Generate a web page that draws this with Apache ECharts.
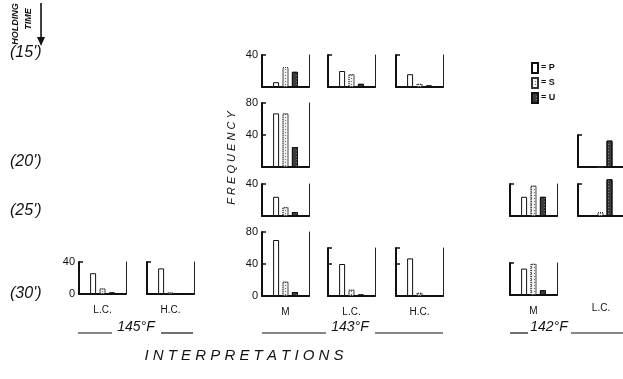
<!DOCTYPE html>
<html><head><meta charset="utf-8">
<script src="https://cdn.jsdelivr.net/npm/echarts@6/dist/echarts.min.js"></script>
<style>html,body{margin:0;padding:0;background:#fff}#c{width:623px;height:379px}</style>
</head><body><div id="c"></div>
<script>
// ---- data ----
const categories = ['P', 'S', 'U'];
const holdingTimes = ["(15')", "(20')", "(25')", "(30')"];
const temperatures = ['145°F', '143°F', '142°F'];
const treatments = ['M', 'L.C.', 'H.C.'];
const tickValues = [0, 40, 80];
// frequencies [P, S, U] per panel
const f145_LC_30 = [26, 7, 2];
const f145_HC_30 = [32, 2, 1];
const f143_M_15 = [6, 25, 19];
const f143_LC_15 = [20, 16, 4];
const f143_HC_15 = [16, 4, 2];
const f143_M_20 = [67, 67, 25];
const f143_M_25 = [24, 11, 5];
const f143_M_30 = [70, 18, 5];
const f143_LC_30 = [40, 8, 2];
const f143_HC_30 = [47, 4, 1];
const f142_LC_20 = [0, 0, 33];
const f142_M_25 = [24, 38, 24];
const f142_LC_25 = [1, 5, 46];
const f142_M_30 = [33, 39, 6];

// ---- layout ----
const K = 0.8; // px per frequency unit
const W = 47;
const panels = [
  {v: f145_LC_30, left: 79,  base: 294, max: 40, labels: [40, 0], name: treatments[1]},
  {v: f145_HC_30, left: 147, base: 294, max: 40, labels: [], name: treatments[2]},
  {v: f143_M_15,  left: 262, base: 87,  max: 40, labels: [40], name: ''},
  {v: f143_LC_15, left: 328, base: 87,  max: 40, labels: [], name: ''},
  {v: f143_HC_15, left: 396, base: 87,  max: 40, labels: [], name: ''},
  {v: f143_M_20,  left: 262, base: 167, max: 80, labels: [80, 40], name: ''},
  {v: f143_M_25,  left: 262, base: 216, max: 40, labels: [40], name: ''},
  {v: f143_M_30,  left: 262, base: 296, max: 80, labels: [80, 40, 0], name: treatments[0]},
  {v: f143_LC_30, left: 328, base: 296, max: 60, labels: [], name: treatments[1]},
  {v: f143_HC_30, left: 396, base: 296, max: 60, labels: [], name: treatments[2]},
  {v: f142_LC_20, left: 578, base: 167, max: 40, labels: [], name: ''},
  {v: f142_M_25,  left: 510, base: 216, max: 40, labels: [], name: ''},
  {v: f142_LC_25, left: 578, base: 216, max: 40, labels: [], name: ''},
  {v: f142_M_30,  left: 510, base: 295, max: 40, labels: [], name: treatments[0]}
];
const xCats = [''].concat(categories, ['']);
const barStyles = {
  P: {color: '#ffffff', borderColor: '#111', borderWidth: 1},
  S: {color: '#f2f2f2', borderColor: '#333', borderWidth: 1, borderType: 'dotted',
      decal: {symbol: 'rect', symbolSize: 1, color: 'rgba(0,0,0,0.55)', dashArrayX: [1, 2], dashArrayY: [1, 2], rotation: 0}},
  U: {color: '#3c3c3c', borderColor: '#111', borderWidth: 1,
      decal: {symbol: 'rect', symbolSize: 1, color: 'rgba(255,255,255,0.35)', dashArrayX: [1, 3], dashArrayY: [1, 2], rotation: 0}}
};
const FONT = 'Liberation Sans';

const grid = [], xAxis = [], yAxis = [], series = [];
panels.forEach((p, i) => {
  const h = p.max * K;
  grid.push({left: p.left, top: p.base - h, width: W, height: h});
  xAxis.push({
    gridIndex: i, type: 'category', data: xCats, boundaryGap: true,
    axisLine: {lineStyle: {color: '#111', width: 2}},
    axisTick: {show: false}, axisLabel: {show: false},
    name: p.name, nameLocation: 'middle', nameGap: 11,
    nameTextStyle: {fontFamily: FONT, fontSize: 10, color: '#111'}
  });
  yAxis.push({
    gridIndex: i, type: 'value', min: 0, max: p.max, interval: 40, position: 'left',
    axisLine: {show: true, lineStyle: {color: '#111', width: 2}},
    axisTick: {show: true, inside: true, length: 4, lineStyle: {color: '#111', width: 1.5}},
    splitLine: {show: false},
    axisLabel: {
      margin: 4, fontFamily: FONT, fontSize: 11, color: '#111',
      formatter: val => (p.labels.indexOf(val) >= 0 ? String(val) : '')
    }
  });
  yAxis.push({
    gridIndex: i, type: 'value', min: 0, max: p.max, position: 'right',
    axisLine: {show: true, lineStyle: {color: '#222', width: 1}},
    axisTick: {show: false}, axisLabel: {show: false}, splitLine: {show: false}
  });
  categories.forEach((c, j) => {
    const data = xCats.map(x => (x === c ? p.v[j] : '-'));
    series.push({
      type: 'bar', name: c, xAxisIndex: i, yAxisIndex: 2 * i,
      data: data, barWidth: 6, barGap: '-100%', clip: false,
      itemStyle: barStyles[c], emphasis: {disabled: true}, animation: false
    });
  });
});

const T = (x, y, text, font) => ({type: 'text', x, y,
  style: {text, font: font + ' ' + FONT, align: 'left', verticalAlign: 'middle', fill: '#111'}});
const C = (x, y, text, font, rot) => ({type: 'text', x, y, rotation: rot || 0,
  style: {text, font: font + ' ' + FONT, align: 'center', verticalAlign: 'middle', fill: '#111'}});
const L = (x1, x2, y) => ({type: 'line', shape: {x1, y1: y, x2, y2: y}, style: {stroke: '#111', lineWidth: 1.2}});

const graphic = [
  C(16, 24, 'HOLDING', 'italic bold 9px', Math.PI / 2),
  C(29, 19, 'TIME', 'italic bold 9px', Math.PI / 2),
  {type: 'line', shape: {x1: 41, y1: 3, x2: 41, y2: 40}, style: {stroke: '#111', lineWidth: 1.6}},
  {type: 'polygon', shape: {points: [[37, 37], [45, 37], [41, 46]]}, style: {fill: '#111'}},
  T(10, 53, holdingTimes[0], 'italic 16px'),
  T(10, 162, holdingTimes[1], 'italic 16px'),
  T(10, 211, holdingTimes[2], 'italic 16px'),
  T(10, 294, holdingTimes[3], 'italic 16px'),
  C(232, 158, 'F R E Q U E N C Y', 'italic 11px', Math.PI / 2),
  C(136, 327, temperatures[0], 'italic 14px'),
  L(78, 112, 333), L(161, 193, 333),
  C(350, 327, temperatures[1], 'italic 14px'),
  L(262, 326, 333), L(375, 443, 333),
  C(549, 327, temperatures[2], 'italic 14px'),
  L(510, 528, 333), L(571, 623, 333),
  C(601, 308, treatments[1], '10px'),
  C(244, 356, 'I N T E R P R E T A T I O N S', 'italic 15px')
];

const chart = echarts.init(document.getElementById('c'), null, {renderer: 'canvas'});
chart.setOption({
  animation: false,
  backgroundColor: '#fff',
  grid, xAxis, yAxis, series, graphic,
  legend: {
    data: categories, orient: 'vertical', left: 526, top: 57, itemGap: 3,
    itemWidth: 6, itemHeight: 10, icon: 'rect', selectedMode: false,
    formatter: n => '= ' + n,
    textStyle: {fontFamily: FONT, fontSize: 9, fontWeight: 'bold', color: '#111', padding: [0, 0, 0, -2]}
  }
});
</script></body></html>
